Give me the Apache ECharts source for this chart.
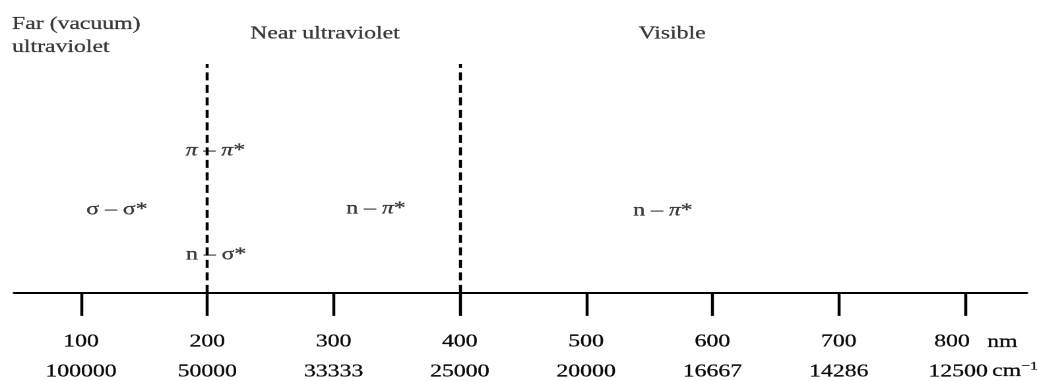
<!DOCTYPE html>
<html>
<head>
<meta charset="utf-8">
<script src="https://cdn.jsdelivr.net/npm/echarts@6/dist/echarts.min.js"></script>
<style>
  html, body { margin: 0; padding: 0; background: #fff; overflow: hidden; }
  #wrap { width: 1037px; height: 381px; overflow: hidden; }
  #chart { width: 786px; height: 381px; transform: scaleX(1.3193); transform-origin: 0 0; }
</style>
</head>
<body>
<div id="wrap"><div id="chart"></div></div>
<script>
// ---- data ----
const tickValuesNm = [100, 200, 300, 400, 500, 600, 700, 800];
const nmLabels = ['100', '200', '300', '400', '500', '600', '700', '800'];
const cmLabels = ['100000', '50000', '33333', '25000', '20000', '16667', '14286', '12500'];
const boundariesNm = [200, 400];
// region headers: [nm position, height, text, align]
const regionNames = [
  [45.4, 257, 'Far (vacuum)\nultraviolet', 'left'],
  [293.2, 259, 'Near ultraviolet', 'center'],
  [568, 259, 'Visible', 'center']
];
// transitions: [nm position, height, rich text]
const transitions = [
  [128.5, 83, '{g|σ – σ*}'],
  [206.5, 142, '{p|π} – {p|π}*'],
  [207, 38, 'n – {g|σ*}'],
  [333.6, 84, 'n – {p|π}*'],
  [560.8, 82, 'n – {p|π}*']
];

const K = 1.3193;
const FONT = 'Liberation Serif';
const INK = '#0a0a0a';
const chart = echarts.init(document.getElementById('chart'), null, { devicePixelRatio: 2 });

const bold = { textBorderColor: INK, textBorderWidth: 0.25 };
const richBase = {
  p: Object.assign({ fontFamily: FONT, fontSize: 18, fontStyle: 'italic', color: INK }, bold),
  g: Object.assign({ fontFamily: FONT, fontSize: 18, color: INK }, bold)
};

chart.setOption({
  animation: false,
  backgroundColor: '#fff',
  grid: { left: 14 / K, right: 10 / K, top: 0, bottom: 88 },
  xAxis: {
    type: 'value',
    min: 47,
    max: 849,
    splitLine: { show: false },
    axisLine: { show: true, lineStyle: { color: '#000', width: 2 } },
    axisTick: {
      show: true,
      customValues: tickValuesNm,
      length: 23,
      lineStyle: { color: '#000', width: 3 / K }
    },
    axisLabel: {
      show: true,
      customValues: tickValuesNm,
      margin: 34,
      formatter: function (v) {
        const i = tickValuesNm.indexOf(v);
        if (i === tickValuesNm.length - 1) {
          return '{a8|' + nmLabels[i] + '}\n{b8|' + cmLabels[i] + '}';
        }
        return '{a|' + nmLabels[i] + '}\n{b|' + cmLabels[i] + '}';
      },
      rich: {
        a: Object.assign({ fontFamily: FONT, fontSize: 18, color: INK, lineHeight: 30 }, bold),
        b: Object.assign({ fontFamily: FONT, fontSize: 18, color: INK, lineHeight: 30 }, bold),
        a8: Object.assign({ fontFamily: FONT, fontSize: 18, color: INK, lineHeight: 30, padding: [0, 26 / K, 0, 0] }, bold),
        b8: Object.assign({ fontFamily: FONT, fontSize: 18, color: INK, lineHeight: 30, padding: [0, 14 / K, 0, 0] }, bold)
      }
    }
  },
  yAxis: {
    type: 'value', min: 0, max: 293, show: false,
    splitLine: { show: false }
  },
  series: [
    {
      type: 'scatter',
      name: 'regions',
      clip: false,
      symbolSize: 0,
      data: regionNames.map(r => ({ value: [r[0], r[1]], label: { align: r[3] } })),
      label: Object.assign({
        show: true,
        position: 'inside',
        verticalAlign: 'middle',
        fontFamily: FONT,
        fontSize: 18,
        lineHeight: 23,
        color: INK,
        formatter: function (p) { return regionNames[p.dataIndex][2]; }
      }, bold),
      markLine: {
        silent: true,
        symbol: ['none', 'none'],
        label: { show: false },
        lineStyle: { color: '#000', width: 3 / K, type: [8, 4.5] },
        data: boundariesNm.map(b => [{ coord: [b, 0] }, { coord: [b, 229] }])
      }
    },
    {
      type: 'scatter',
      name: 'transitions',
      clip: false,
      symbolSize: 0,
      data: transitions.map(t => [t[0], t[1]]),
      label: Object.assign({
        show: true,
        position: 'inside',
        align: 'center',
        verticalAlign: 'middle',
        fontFamily: FONT,
        fontSize: 18,
        color: INK,
        formatter: function (p) { return transitions[p.dataIndex][2]; },
        rich: richBase
      }, bold)
    }
  ],
  graphic: [
    {
      type: 'text', left: 987 / K, top: 333,
      style: { text: 'nm', font: '18px "Liberation Serif"', fill: INK, stroke: INK, lineWidth: 0.25 }
    },
    {
      type: 'text', left: 992 / K, top: 360,
      style: {
        text: '{c|cm}{s|−1}',
        fill: INK,
        rich: {
          c: { fontFamily: FONT, fontSize: 18, fill: INK, stroke: INK, lineWidth: 0.25 },
          s: { fontFamily: FONT, fontSize: 12, fill: INK, stroke: INK, lineWidth: 0.25, padding: [0, 0, 10, 0] }
        }
      }
    }
  ]
});
</script>
</body>
</html>
